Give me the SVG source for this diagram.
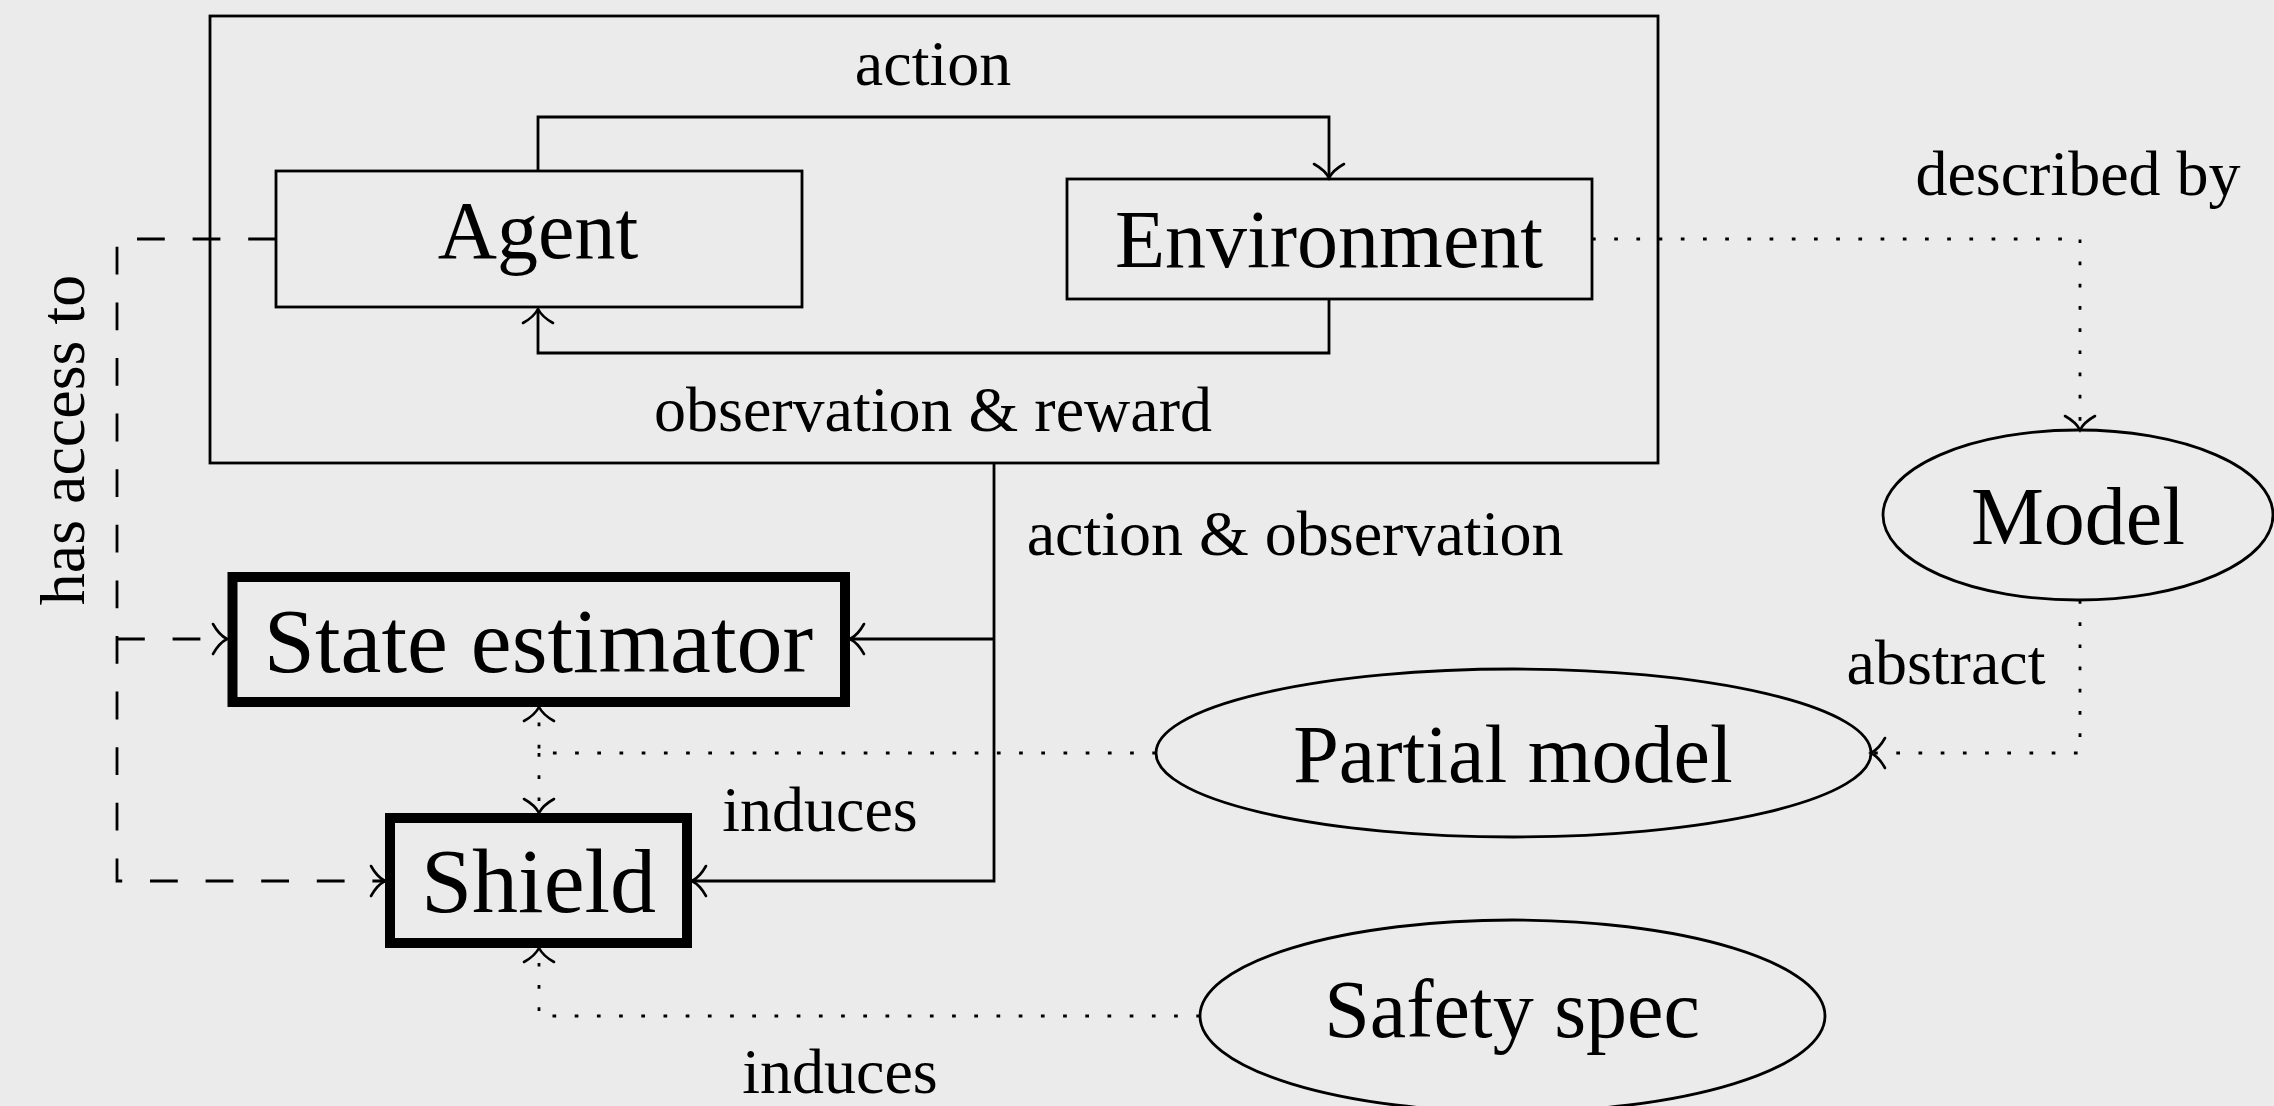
<svg xmlns="http://www.w3.org/2000/svg" width="2274" height="1106" viewBox="0 0 2274 1106">
<style>
text{font-family:"Liberation Serif","Times New Roman",serif;fill:#000}
.lbl{font-size:64px}
.nd{font-size:82px}
.big{font-size:92px}
.thin{fill:none;stroke:#000;stroke-width:2.8}
.thick{fill:none;stroke:#000;stroke-width:10}
.c{fill:none;stroke:#000;stroke-width:2.8}
.dot{stroke-dasharray:3.7 18.5}
.dash{stroke-dasharray:27.8 27.8}
</style>
<defs>
<marker id="ar" markerUnits="userSpaceOnUse" viewBox="-18 -18 22 36" refX="0" refY="0" markerWidth="22" markerHeight="36" orient="auto" overflow="visible">
<path d="M -14 -15 C -9 -6, -3 -1.5, 0 0 C -3 1.5, -9 6, -14 15" fill="none" stroke="#000" stroke-width="2.6" stroke-dasharray="none" stroke-linecap="round"/>
</marker>
</defs>
<rect width="2274" height="1106" fill="#ebebeb"/>

<g id="outer-box"><rect x="210" y="16" width="1448" height="447" class="thin"/></g>

<g id="connectors">
<path class="c" d="M 538 171 V 117 H 1329 V 178" marker-end="url(#ar)"/>
<path class="c" d="M 1329 299 V 353 H 538 V 309" marker-end="url(#ar)"/>
<path class="c" d="M 994 463 V 881 H 692" marker-end="url(#ar)"/>
<path class="c" d="M 994 639 H 850" marker-end="url(#ar)"/>
<path class="c dot" d="M 1592 239 H 2080 V 430" marker-end="url(#ar)"/>
<path class="c dot" d="M 2080 600 V 753 H 1871" marker-end="url(#ar)"/>
<path class="c dot" d="M 1156 753 H 539 V 707" marker-end="url(#ar)"/>
<path class="c dot" d="M 539 753 V 813" marker-end="url(#ar)"/>
<path class="c dot" d="M 1200 1016 H 539 V 948" marker-end="url(#ar)"/>
<path class="c dash" d="M 276 239 H 117 V 881 H 385" marker-end="url(#ar)"/>
<path class="c dash" d="M 117 639 H 227" marker-end="url(#ar)"/>
<text class="lbl" x="933" y="85" text-anchor="middle">action</text>
<text class="lbl" x="933" y="431" text-anchor="middle">observation &amp; reward</text>
<text class="lbl" x="2078" y="195" text-anchor="middle">described by</text>
<text class="lbl" x="1295" y="555" text-anchor="middle">action &amp; observation</text>
<text class="lbl" x="1946" y="684" text-anchor="middle">abstract</text>
<text class="lbl" x="820" y="831" text-anchor="middle">induces</text>
<text class="lbl" x="840" y="1093" text-anchor="middle">induces</text>
<text class="lbl" transform="translate(84,440) rotate(-90)" text-anchor="middle">has access to</text>
</g>

<g id="agent">
<rect x="276" y="171" width="526" height="136" class="thin"/>
<text class="nd" x="538" y="258" text-anchor="middle">Agent</text>
</g>
<g id="environment">
<rect x="1067" y="179" width="525" height="120" class="thin"/>
<text class="nd" x="1329" y="267" text-anchor="middle">Environment</text>
</g>
<g id="model">
<ellipse cx="2078" cy="515" rx="195" ry="85" class="thin"/>
<text class="nd" x="2078" y="544" text-anchor="middle">Model</text>
</g>
<g id="partial-model">
<ellipse cx="1513.5" cy="753" rx="357.5" ry="84" class="thin"/>
<text class="nd" x="1513" y="782" text-anchor="middle">Partial model</text>
</g>
<g id="safety-spec">
<ellipse cx="1512.5" cy="1016" rx="312.5" ry="96" class="thin"/>
<text class="nd" x="1512" y="1037" text-anchor="middle">Safety spec</text>
</g>
<g id="state-estimator">
<rect x="232.5" y="577" width="612.5" height="125" class="thick"/>
<text class="big" x="538.5" y="672" text-anchor="middle">State estimator</text>
</g>
<g id="shield">
<rect x="390" y="818" width="297" height="125" class="thick"/>
<text class="big" x="538.5" y="912" text-anchor="middle">Shield</text>
</g>
</svg>
